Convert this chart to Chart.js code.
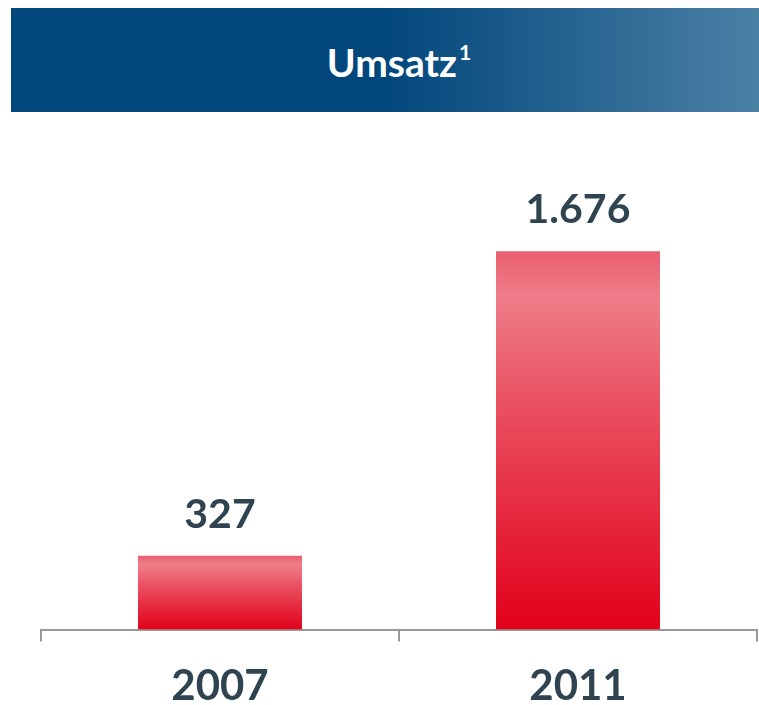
<!DOCTYPE html>
<html>
<head>
<meta charset="utf-8">
<script src="https://cdn.jsdelivr.net/npm/chart.js@4/dist/chart.umd.min.js"></script>
<style>
  html, body { margin: 0; padding: 0; background: #fff; }
  #wrap { position: relative; width: 759px; height: 705px; }
  #head {
    position: absolute; left: 11px; top: 8px; width: 748px; height: 104px;
    background: linear-gradient(to right, #02477c 0%, #02477c 50%, #4b80a5 100%);
    color: #fff; font-family: Lato, sans-serif; font-weight: bold; font-size: 39px;
    display: flex; align-items: center; justify-content: center;
  }
  #head span { position: relative; top: 2px; left: 14px; }
  #head sup { font-size: 21px; vertical-align: top; position: relative; top: 0px; margin-left: 2px; }
  canvas { position: absolute; left: 0; top: 0; }
</style>
</head>
<body>
<div id="wrap">
  <canvas id="chartBar" width="759" height="705"></canvas>
  <div id="head"><span>Umsatz<sup>1</sup></span></div>
</div>
<script>
  var years = ["2007", "2011"];
  var umsatz = [327, 1676];
  var valueLabels = ["327", "1.676"];

  var textColor = "#2f4450";

  function barFill(context) {
    var chart = context.chart;
    if (!chart.chartArea) return "#e2001a";
    var y = chart.scales.y;
    var top = y.getPixelForValue(context.raw);
    var bottom = y.getPixelForValue(0);
    var g = chart.ctx.createLinearGradient(0, top, 0, bottom);
    g.addColorStop(0, "#ea5f6f");
    g.addColorStop(0.12, "#ef7d89");
    g.addColorStop(0.45, "#e94a5b");
    g.addColorStop(1, "#e2001a");
    return g;
  }

  var valueLabelPlugin = {
    id: "valueLabels",
    afterDatasetsDraw: function(chart) {
      var ctx = chart.ctx;
      var meta = chart.getDatasetMeta(0);
      ctx.save();
      ctx.fillStyle = textColor;
      ctx.font = "bold 41px Lato, sans-serif";
      ctx.textAlign = "center";
      ctx.textBaseline = "alphabetic";
      meta.data.forEach(function(bar, i) {
        ctx.fillText(valueLabels[i], bar.x, bar.y - 28);
      });
      ctx.restore();
    }
  };

  var ctx = document.getElementById("chartBar").getContext("2d");

  var myChart = new Chart(ctx, {
    type: "bar",
    data: {
      labels: years,
      datasets: [{
        data: umsatz,
        backgroundColor: barFill,
        borderWidth: 0,
        barPercentage: 0.458,
        categoryPercentage: 1.0
      }]
    },
    options: {
      responsive: false,
      animation: false,
      layout: { padding: { top: 178, left: 41, right: 2, bottom: -27 } },
      plugins: {
        legend: { display: false },
        title: { display: false },
        tooltip: { enabled: false }
      },
      scales: {
        y: { display: false, min: 0, max: 2000 },
        x: {
          grid: {
            offset: true,
            drawOnChartArea: false,
            drawTicks: true,
            tickLength: 12,
            color: "#999999",
            lineWidth: 2
          },
          border: { display: true, color: "#999999", width: 2 },
          ticks: {
            color: textColor,
            font: { family: "Lato, sans-serif", size: 42, weight: "bold" },
            padding: 20
          }
        }
      }
    },
    plugins: [valueLabelPlugin]
  });
</script>
</body>
</html>
